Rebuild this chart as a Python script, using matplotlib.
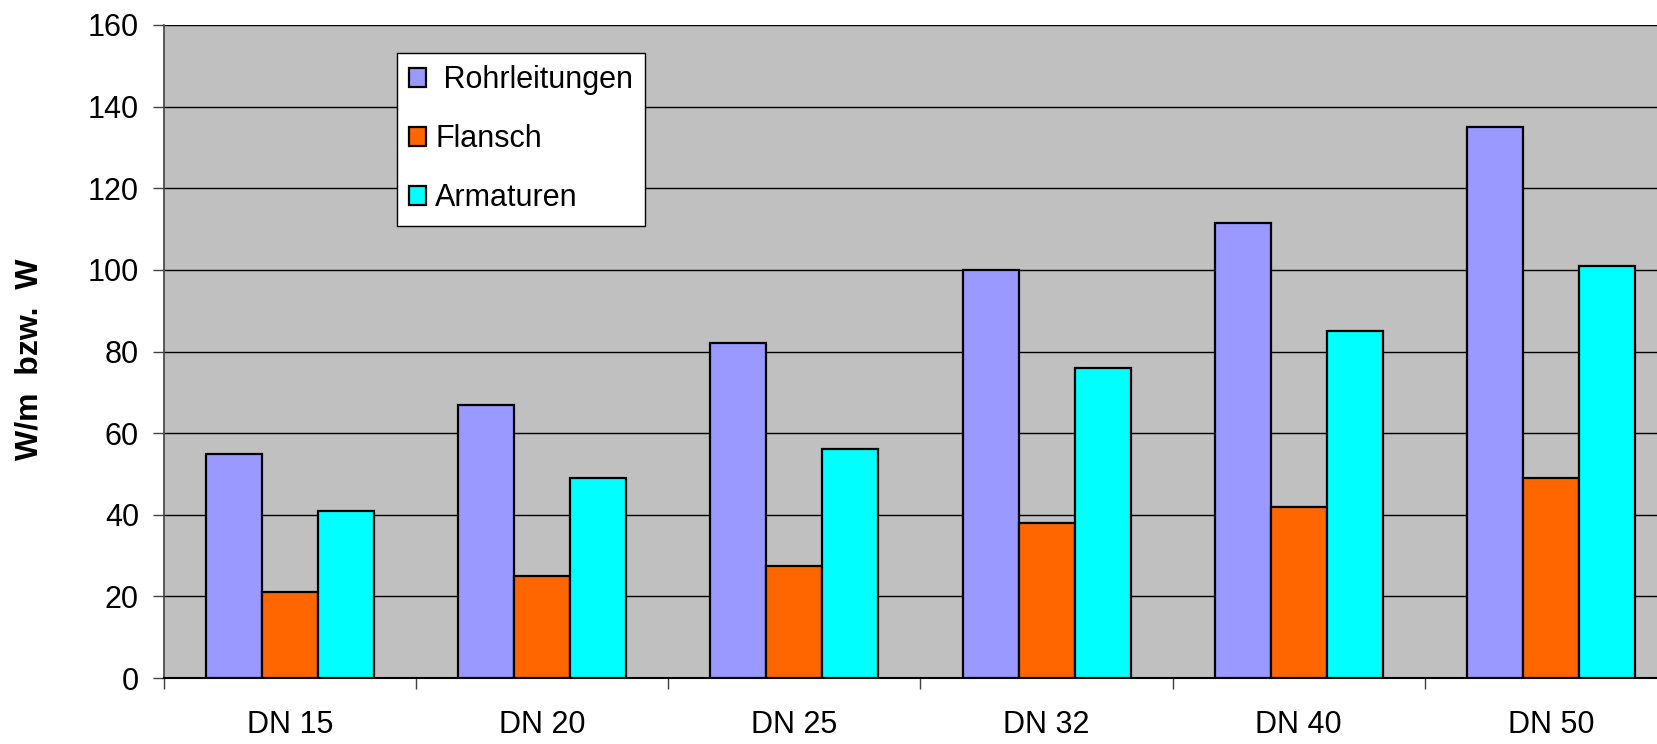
import numpy as np
import matplotlib
matplotlib.use("Agg")
import matplotlib.pyplot as plt
from matplotlib.patches import Patch

plt.rcParams['font.family'] = ['Liberation Sans', 'DejaVu Sans']

# Waermeverluste je Nennweite
nennweiten = ['DN 15', 'DN 20', 'DN 25', 'DN 32', 'DN 40', 'DN 50']
rohrleitungen = [55, 67, 82, 100, 111.5, 135]
flansch = [21, 25, 27.5, 38, 42, 49]
armaturen = [41, 49, 56, 76, 85, 101]

reihen = [' Rohrleitungen', 'Flansch', 'Armaturen']
farben = ['#9999FF', '#FF6600', '#00FFFF']
yticks = [0, 20, 40, 60, 80, 100, 120, 140, 160]

fig = plt.figure(figsize=(16.58, 7.44), dpi=100)
# plot area runs past the right edge of the figure
ax = fig.add_axes([164/1658, 66/744, 1513/1658, 653/744])
ax.set_facecolor('#C0C0C0')

x = np.arange(len(nennweiten))
w = 0.222
for i, (werte, farbe) in enumerate(zip([rohrleitungen, flansch, armaturen], farben)):
    ax.bar(x + (i - 1) * w, werte, width=w, color=farbe, edgecolor='black',
           linewidth=1.6, zorder=3)

ax.set_xlim(-0.5, len(nennweiten) - 0.5)
ax.set_ylim(0, 160)
ax.set_yticks(yticks)
ax.yaxis.grid(True, color='black', linewidth=1.0)
ax.set_axisbelow(True)

ax.set_xticks(x)
ax.set_xticklabels(nennweiten, fontsize=22)
ax.set_xticks(np.arange(len(nennweiten) + 1) - 0.5, minor=True)
ax.tick_params(axis='x', which='major', length=0, pad=23)
ax.tick_params(axis='x', which='minor', length=8, width=1, color='#404040')
ax.tick_params(axis='y', length=8, width=1, color='#404040', pad=10, labelsize=22)

for s in ['top', 'right']:
    ax.spines[s].set_visible(False)
ax.spines['left'].set_color('#404040')
ax.spines['left'].set_linewidth(1.2)
ax.spines['bottom'].set_color('black')
ax.spines['bottom'].set_linewidth(1.5)

fig.text(30/1658, 1 - 359/744, 'W/m  bzw.  W', rotation=90, fontsize=23,
         fontweight='bold', ha='center', va='center')

handles = [Patch(facecolor=c, edgecolor='black', linewidth=1.6) for c in farben]
leg = ax.legend(handles, reihen, loc='upper left',
                bbox_to_anchor=(397/1658, 1 - 53/744), bbox_transform=fig.transFigure,
                borderaxespad=0, fontsize=22, handlelength=0.55, handleheight=0.55,
                handletextpad=0.3, labelspacing=0.95, borderpad=0.4,
                fancybox=False, framealpha=1)
leg.get_frame().set_edgecolor('black')
leg.get_frame().set_linewidth(1.0)

fig.savefig('out.png', dpi=100)
